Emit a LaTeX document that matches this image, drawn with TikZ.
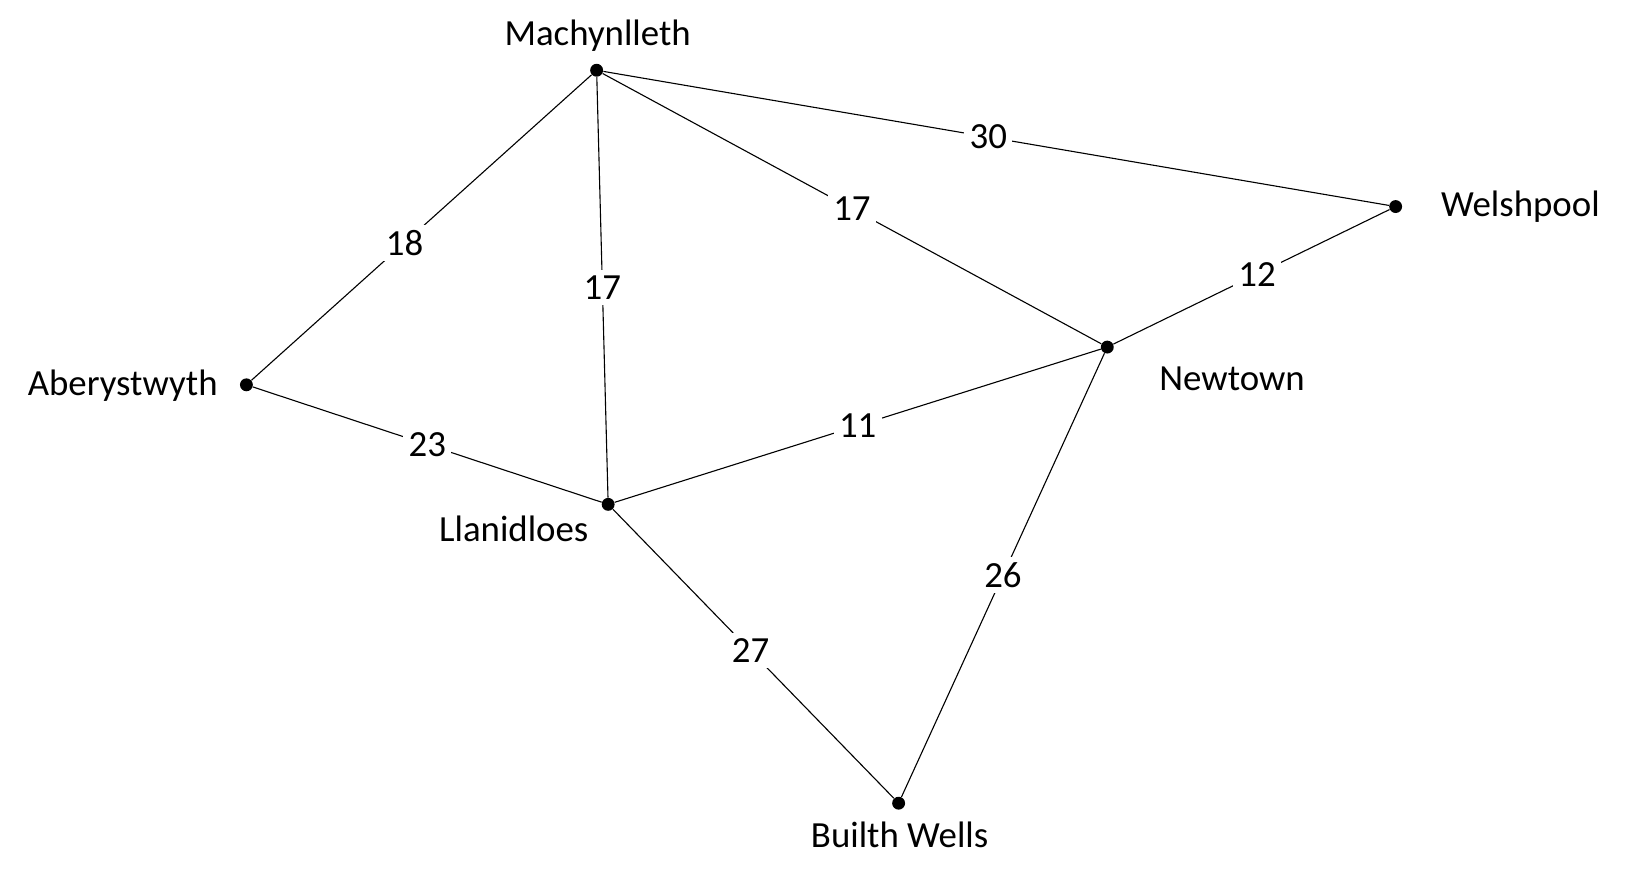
\documentclass[tikz,border=0pt]{standalone}
\usepackage{fontspec}
\setmainfont{Carlito}
\usetikzlibrary{positioning}
\tikzset{
  town/.style={circle, fill=black, inner sep=0pt, minimum size=7pt},
  road/.style={draw=black, line width=0.6pt},
  dist/.style={fill=white, inner sep=3pt, font=\fontsize{20}{24}\selectfont},
  place/.style={font=\fontsize{20}{24}\selectfont}
}
\begin{document}
\begin{tikzpicture}[x=0.02cm, y=-0.02cm]
\useasboundingbox (0,0) rectangle (1565,837);

\node[town] (mach) at (569,67) {};
\node[town] (welsh) at (1331,197) {};
\node[town] (newt) at (1056,331) {};
\node[town] (aber) at (235,367) {};
\node[town] (llan) at (580,481) {};
\node[town] (builth) at (857,766) {};

\node[place] (machl) at (570,34) {Machynlleth};
\node[place] (welshl) at (1450,197) {Welshpool};
\node[place] (newtl) at (1175,361) {Newtown};
\node[place] (aberl) at (117,368) {Aberystwyth};
\node[place] (llanl) at (490,504) {Llanidloes};
\node[place] (builthl) at (858,796) {Builth Wells};

\draw[road] (aber) -- node[dist, pos=0.45] {18} (mach);
\draw[road] (llan) -- node[dist, pos=0.5] {17} (mach);
\draw[road] (mach) -- node[dist, pos=0.5] {17} (newt);
\draw[road] (mach) -- node[dist, pos=0.49] {30} (welsh);
\draw[road] (newt) -- node[dist, pos=0.52] {12} (welsh);
\draw[road] (aber) -- node[dist, pos=0.5] {23} (llan);
\draw[road] (llan) -- node[dist, pos=0.5] {11} (newt);
\draw[road] (llan) -- node[dist, pos=0.49] {27} (builth);
\draw[road] (newt) -- node[dist, pos=0.5] {26} (builth);

\end{tikzpicture}
\end{document}
